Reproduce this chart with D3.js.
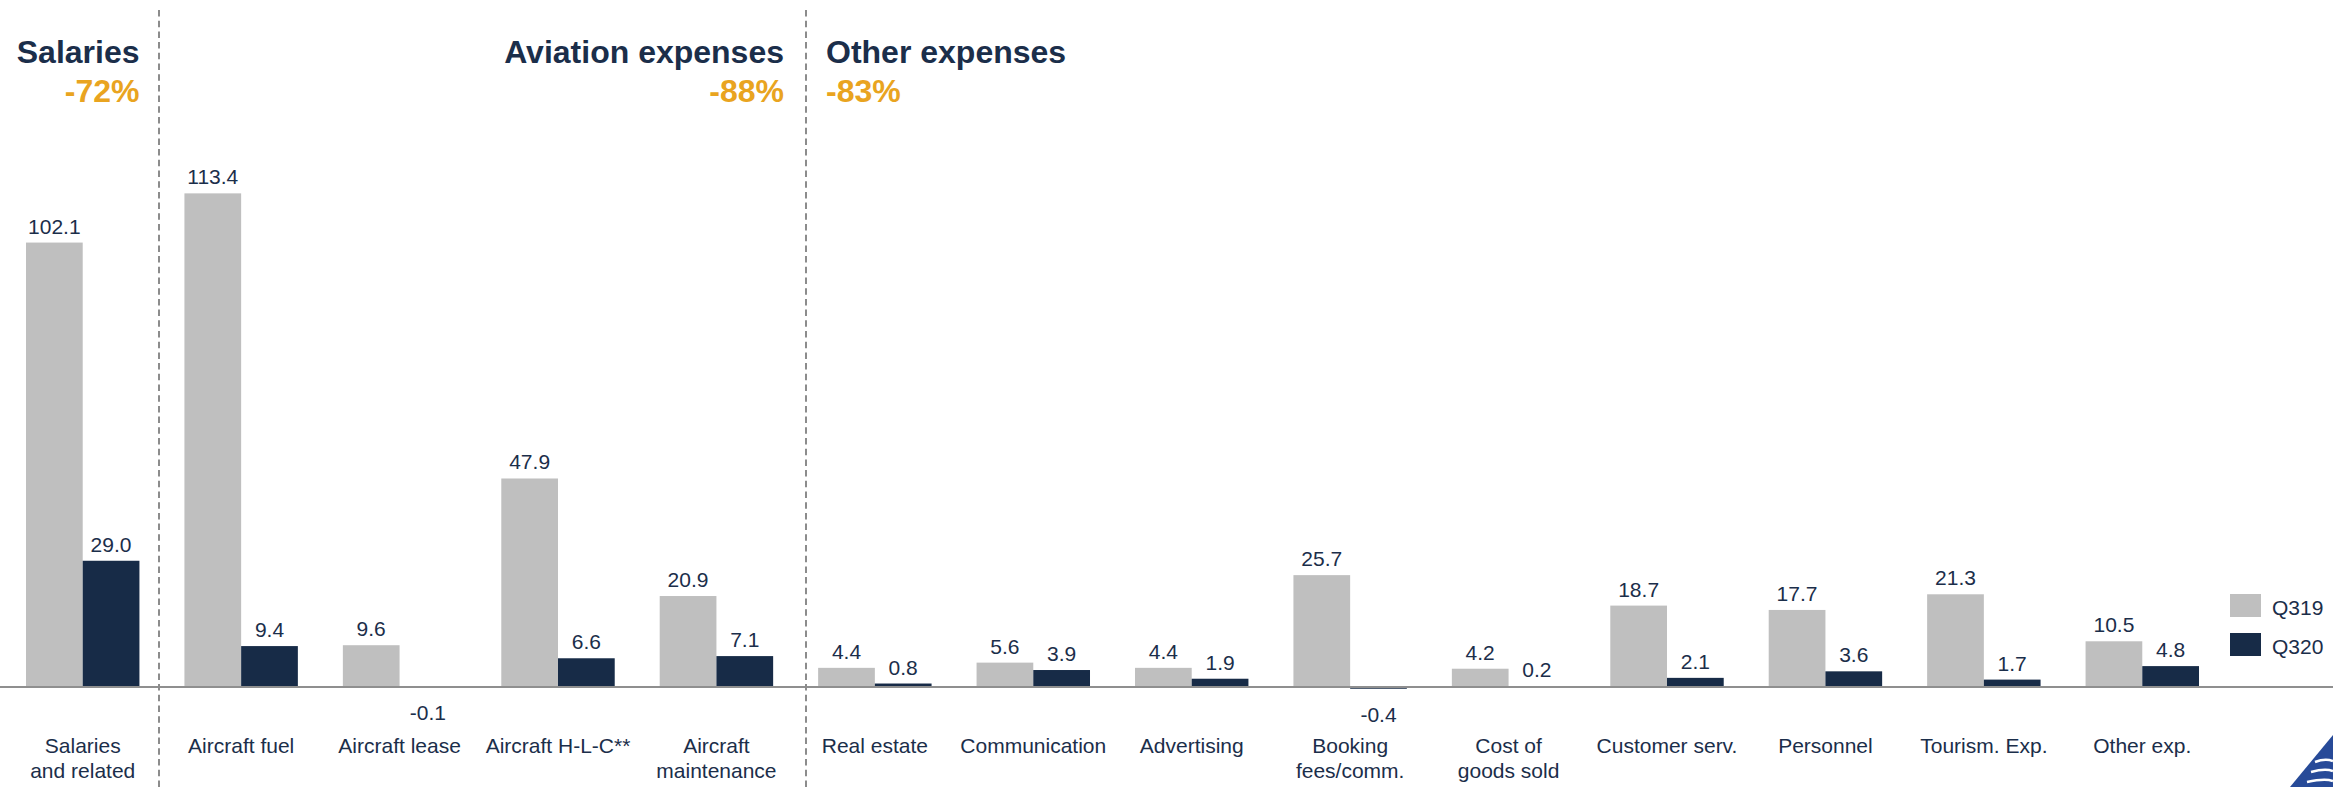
<!DOCTYPE html>
<html>
<head>
<meta charset="utf-8">
<script src="https://cdn.jsdelivr.net/npm/d3@7"></script>
<style>
  html, body { margin: 0; padding: 0; background: #fff; }
  svg { display: block; font-family: "Liberation Sans", Arial, sans-serif; }
</style>
</head>
<body>
<div id="chart"></div>
<script>
var svgWidth = 2333;
var svgHeight = 787;

// data
var categories = ["Salaries\nand related", "Aircraft fuel", "Aircraft lease", "Aircraft H-L-C**",
  "Aircraft\nmaintenance", "Real estate", "Communication", "Advertising", "Booking\nfees/comm.",
  "Cost of\ngoods sold", "Customer serv.", "Personnel", "Tourism. Exp.", "Other exp."];
var seriesNames = ["Q319", "Q320"];
var q319 = [102.1, 113.4, 9.6, 47.9, 20.9, 4.4, 5.6, 4.4, 25.7, 4.2, 18.7, 17.7, 21.3, 10.5];
var q320 = [29.0, 9.4, -0.1, 6.6, 7.1, 0.8, 3.9, 1.9, -0.4, 0.2, 2.1, 3.6, 1.7, 4.8];
var groupTitles = ["Salaries", "Aviation expenses", "Other expenses"];
var groupChanges = ["-72%", "-88%", "-83%"];

var grey = "#bfbfbf";
var navy = "#172b47";
var textColor = "#1b2e4a";
var orange = "#e9a420";

var svg = d3.select("#chart")
  .append("svg")
  .attr("width", svgWidth)
  .attr("height", svgHeight);

var baseY = 687;

var xScale = d3.scaleBand()
  .domain(categories)
  .range([3.5, 2221.5])
  .paddingInner(0.284)
  .paddingOuter(0.142);

var xInner = d3.scaleBand()
  .domain(seriesNames)
  .range([0, xScale.bandwidth()]);

var yScale = d3.scaleLinear()
  .domain([0, 100])
  .range([baseY, baseY - 435.3]);

var color = d3.scaleOrdinal().domain(seriesNames).range([grey, navy]);

var rows = categories.map(function(c, i) {
  return { cat: c, values: [{ s: "Q319", v: q319[i] }, { s: "Q320", v: q320[i] }] };
});

var groups = svg.selectAll("g.cat")
  .data(rows)
  .enter()
  .append("g")
  .attr("class", "cat")
  .attr("transform", d => `translate(${xScale(d.cat)},0)`);

groups.selectAll("rect")
  .data(d => d.values)
  .enter()
  .append("rect")
  .attr("x", d => xInner(d.s))
  .attr("width", xInner.bandwidth())
  .attr("y", d => yScale(Math.max(0, d.v)))
  .attr("height", d => Math.abs(yScale(d.v) - yScale(0)))
  .attr("fill", d => color(d.s));

// plain hyphen for negatives, like the original
var fmt = v => v.toFixed(1);

groups.selectAll("text.val")
  .data(d => d.values)
  .enter()
  .append("text")
  .attr("class", "val")
  .attr("x", d => xInner(d.s) + xInner.bandwidth() / 2)
  .attr("y", d => d.v >= 0 ? yScale(d.v) - 9 : yScale(d.v) + 33)
  .attr("text-anchor", "middle")
  .attr("font-size", "21px")
  .attr("fill", textColor)
  .text(d => fmt(d.v));

// baseline
svg.append("line")
  .attr("x1", 0)
  .attr("x2", svgWidth)
  .attr("y1", yScale(0))
  .attr("y2", yScale(0))
  .attr("stroke", "#8f8f8f")
  .attr("stroke-width", 2);

// category labels
var catLabels = svg.selectAll("text.cat")
  .data(categories)
  .enter()
  .append("text")
  .attr("class", "cat")
  .attr("text-anchor", "middle")
  .attr("font-size", "21px")
  .attr("fill", textColor)
  .attr("transform", d => `translate(${xScale(d) + xScale.bandwidth() / 2}, 753)`);

catLabels.selectAll("tspan")
  .data(d => d.split("\n"))
  .enter()
  .append("tspan")
  .attr("x", 0)
  .attr("y", (d, i) => i * 24.5)
  .text(d => d);

// dashed separators
[159, 806].forEach(function(x) {
  svg.append("line")
    .attr("x1", x).attr("x2", x)
    .attr("y1", 10).attr("y2", svgHeight)
    .attr("stroke", "#8c8c8c")
    .attr("stroke-width", 2)
    .attr("stroke-dasharray", "6.5,4.2");
});

// group titles
var titlePos = [
  { x: 139.5, anchor: "end" },
  { x: 784, anchor: "end" },
  { x: 826, anchor: "start" }
];
groupTitles.forEach(function(t, i) {
  svg.append("text")
    .attr("x", titlePos[i].x)
    .attr("y", 63)
    .attr("text-anchor", titlePos[i].anchor)
    .attr("font-size", "32px")
    .attr("font-weight", "bold")
    .attr("fill", textColor)
    .text(t);
  svg.append("text")
    .attr("x", titlePos[i].x)
    .attr("y", 101.5)
    .attr("text-anchor", titlePos[i].anchor)
    .attr("font-size", "32px")
    .attr("font-weight", "bold")
    .attr("fill", orange)
    .text(groupChanges[i]);
});

// legend
var legend = svg.selectAll("g.legend")
  .data(seriesNames)
  .enter()
  .append("g")
  .attr("class", "legend")
  .attr("transform", (d, i) => `translate(2230, ${594 + i * 39})`);

legend.append("rect")
  .attr("width", 31)
  .attr("height", 23)
  .attr("fill", d => color(d));

legend.append("text")
  .attr("x", 42)
  .attr("y", 21)
  .attr("font-size", "21px")
  .attr("fill", textColor)
  .text(d => d);

// corner logo fragment
var logo = svg.append("g");
logo.append("path")
  .attr("d", "M2290,787 L2333,735 L2333,787 Z")
  .attr("fill", "#274a98");
[762, 772, 782].forEach(function(y) {
  logo.append("path")
    .attr("d", `M${2315 - (y - 762) * 0.4},${y} Q2325,${y - 4} 2333,${y - 1}`)
    .attr("fill", "none")
    .attr("stroke", "#fff")
    .attr("stroke-width", 2.5);
});
</script>
</body>
</html>
